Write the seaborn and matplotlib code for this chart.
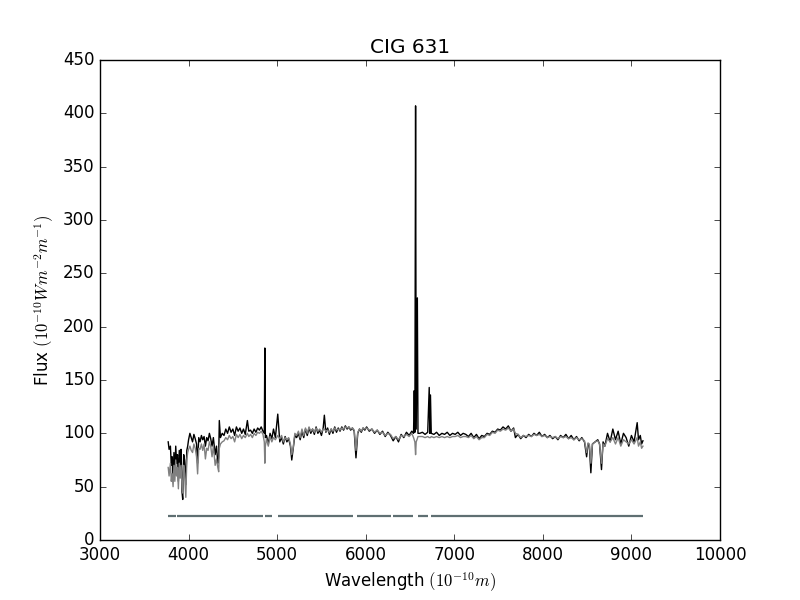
import numpy as np
import pandas as pd
import seaborn as sns
import matplotlib
matplotlib.use("Agg")
import matplotlib.pyplot as plt

# wavelength grid (Angstrom)
wave = [3770, 3780, 3795, 3805, 3815, 3825, 3835, 3845, 3855, 3865, 3875, 3885, 3895, 3905,
        3915, 3926, 3934, 3945, 3955, 3969, 3980, 3990, 4000, 4015, 4030, 4045, 4060, 4075,
        4090, 4102, 4115, 4130, 4145, 4160, 4175, 4190, 4205, 4220, 4235, 4250, 4265, 4280,
        4300, 4315, 4330, 4340, 4347, 4360, 4380, 4400, 4420, 4440, 4460, 4480, 4500, 4520,
        4540, 4560, 4580, 4600, 4620, 4640, 4664, 4680, 4700, 4720, 4740, 4760, 4780, 4800,
        4820, 4840, 4855, 4861, 4867, 4880, 4900, 4920, 4940, 4959, 4980, 5007, 5030, 5050,
        5070, 5090, 5110, 5130, 5150, 5165, 5180, 5200, 5220, 5240, 5260, 5280, 5300, 5320,
        5340, 5360, 5380, 5400, 5420, 5440, 5460, 5480, 5500, 5520, 5533, 5550, 5570, 5590,
        5610, 5630, 5650, 5670, 5690, 5710, 5730, 5750, 5770, 5790, 5810, 5830, 5850, 5870,
        5890, 5910, 5930, 5950, 5970, 5990, 6010, 6040, 6070, 6100, 6130, 6160, 6190, 6220,
        6250, 6280, 6310, 6340, 6370, 6400, 6430, 6460, 6490, 6520, 6540, 6548, 6555, 6563,
        6570, 6583, 6590, 6610, 6640, 6670, 6700, 6717, 6724, 6731, 6740, 6770, 6800, 6830,
        6860, 6890, 6920, 6950, 6980, 7010, 7040, 7070, 7100, 7130, 7160, 7190, 7220, 7250,
        7280, 7310, 7340, 7370, 7400, 7430, 7460, 7490, 7520, 7550, 7580, 7610, 7640, 7670,
        7690, 7720, 7750, 7780, 7810, 7840, 7870, 7900, 7930, 7960, 7990, 8020, 8050, 8080,
        8110, 8140, 8170, 8200, 8230, 8260, 8290, 8320, 8350, 8380, 8410, 8440, 8470, 8494,
        8510, 8525, 8542, 8560, 8590, 8620, 8640, 8662, 8680, 8700, 8730, 8760, 8790, 8820,
        8850, 8880, 8910, 8940, 8970, 9000, 9030, 9065, 9080, 9100, 9115, 9130]

# observed flux (black)
flux_obs = [92, 85, 88, 70, 78, 58, 82, 62, 88, 72, 80, 55, 84, 66,
            85, 45, 38, 80, 75, 52, 84, 88, 94, 100, 96, 92, 99, 95,
            90, 72, 96, 92, 98, 94, 97, 88, 96, 93, 100, 95, 88, 96,
            80, 88, 72, 78, 112, 96, 100, 98, 104, 100, 106, 101, 104, 98,
            106, 102, 105, 100, 104, 99, 112, 102, 103, 100, 104, 101, 105, 103,
            106, 102, 100, 180, 96, 98, 90, 100, 95, 104, 96, 118, 92, 96,
            90, 97, 92, 95, 88, 75, 85, 98, 96, 100, 94, 102, 96, 104,
            98, 105, 100, 104, 99, 106, 100, 103, 98, 105, 117, 101, 105, 99,
            104, 100, 106, 101, 105, 102, 106, 103, 107, 104, 106, 103, 105, 102,
            77, 100, 104, 101, 105, 103, 106, 102, 104, 100, 103, 99, 102, 97,
            101, 98, 93, 97, 92, 99, 96, 101, 98, 102, 100, 140, 101, 407,
            104, 227, 100, 100, 101, 99, 101, 143, 100, 136, 100, 99, 101, 98,
            100, 99, 101, 98, 100, 99, 101, 98, 100, 99, 97, 100, 96, 99,
            95, 98, 97, 100, 99, 102, 101, 104, 103, 106, 104, 107, 102, 105,
            96, 99, 95, 98, 96, 99, 97, 100, 98, 101, 97, 99, 96, 98,
            95, 97, 94, 98, 96, 99, 95, 98, 94, 97, 93, 96, 92, 78,
            90, 88, 63, 90, 92, 94, 90, 66, 92, 88, 100, 92, 104, 94,
            102, 90, 100, 96, 88, 98, 92, 110, 94, 98, 90, 93]

# model / fitted flux (gray)
flux_model = [68, 60, 72, 55, 62, 50, 70, 55, 75, 60, 68, 48, 72, 58,
              70, 50, 44, 70, 62, 40, 75, 82, 85, 88, 84, 82, 90, 86,
              78, 62, 86, 85, 90, 84, 90, 76, 86, 84, 92, 88, 78, 88,
              70, 76, 68, 64, 86, 90, 92, 93, 96, 94, 98, 95, 97, 92,
              99, 96, 99, 95, 98, 96, 100, 97, 99, 96, 100, 98, 101, 100,
              102, 99, 92, 72, 88, 95, 88, 97, 92, 96, 94, 98, 95, 98,
              92, 96, 94, 96, 90, 80, 86, 100, 98, 102, 96, 104, 98, 105,
              100, 106, 102, 104, 101, 105, 102, 104, 101, 104, 104, 102, 103, 101,
              104, 102, 105, 103, 104, 103, 105, 104, 106, 105, 106, 104, 105, 103,
              84, 101, 104, 102, 105, 104, 105, 103, 104, 101, 103, 100, 101, 98,
              100, 99, 95, 97, 94, 98, 97, 99, 97, 100, 96, 94, 92, 80,
              92, 95, 97, 97, 97, 96, 97, 96, 96, 96, 97, 96, 97, 96,
              97, 96, 97, 96, 97, 97, 98, 96, 97, 97, 96, 98, 95, 97,
              94, 96, 96, 99, 98, 101, 100, 103, 102, 104, 103, 105, 102, 104,
              100, 99, 96, 98, 97, 98, 97, 99, 98, 99, 97, 98, 96, 97,
              96, 97, 95, 97, 96, 97, 95, 96, 94, 96, 94, 95, 93, 82,
              91, 90, 72, 90, 92, 93, 90, 72, 90, 88, 95, 92, 96, 90,
              96, 88, 94, 92, 90, 94, 90, 96, 88, 92, 86, 88]

# masked-pixel line (good regions), drawn at a constant level
mask_start = [3771, 3866, 4863, 5013, 5905, 6305, 6594, 6737]
mask_end = [3858, 4844, 4939, 5860, 6282, 6529, 6700, 9127]
mask_level = 22.5

plt.style.use("classic")
fig, ax = plt.subplots(figsize=(8, 6), dpi=100)
fig.patch.set_facecolor("white")

spec = pd.DataFrame({"wave": wave, "obs": flux_obs, "model": flux_model})
sns.lineplot(data=spec, x="wave", y="obs", color="black", lw=1.0,
             estimator=None, sort=False, ax=ax)
sns.lineplot(data=spec, x="wave", y="model", color="gray", lw=1.0,
             estimator=None, sort=False, ax=ax)

mask = pd.DataFrame({
    "wave": mask_start + mask_end,
    "level": [mask_level] * (2 * len(mask_start)),
    "seg": list(range(len(mask_start))) * 2,
})
sns.lineplot(data=mask, x="wave", y="level", units="seg", estimator=None,
             color="#5f6f72", lw=1.6, solid_capstyle="butt", ax=ax)

ax.set_xlim(3000, 10000)
ax.set_ylim(0, 450)
ax.set_title("CIG 631")
ax.set_xlabel(r"Wavelength $(10^{-10} m)$")
ax.set_ylabel(r"Flux $(10^{-10} W m^{-2} m^{-1})$")

fig.savefig("out.png", dpi=100, facecolor="white")
